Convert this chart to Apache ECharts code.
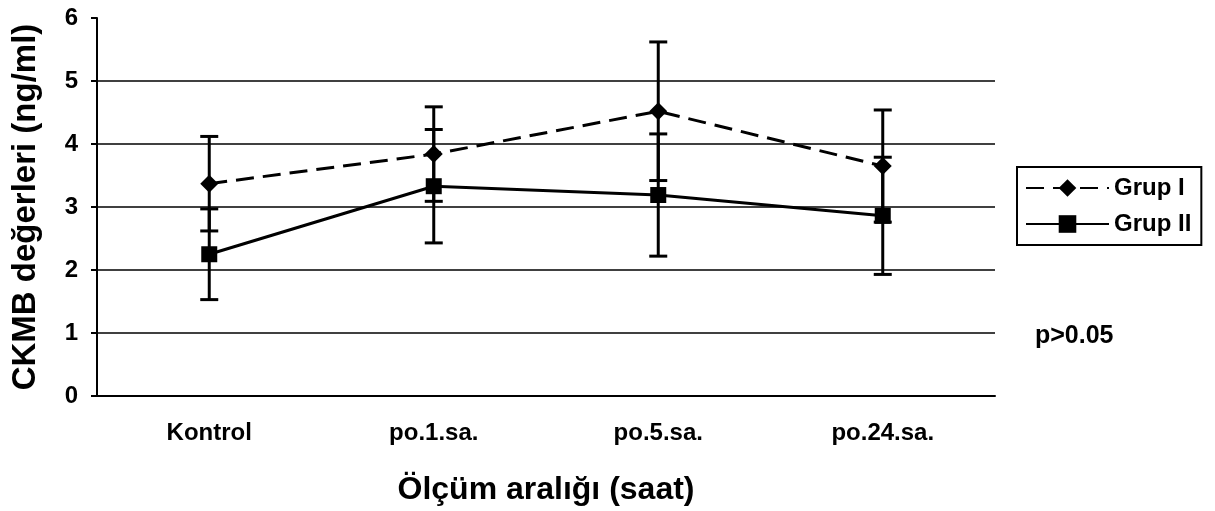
<!DOCTYPE html>
<html>
<head>
<meta charset="utf-8">
<script src="https://cdn.jsdelivr.net/npm/echarts@6/dist/echarts.min.js"></script>
<style>
  html, body { margin: 0; padding: 0; background: #fff; }
  #main { width: 1215px; height: 511px; }
</style>
</head>
<body>
<div id="main"></div>
<script>
// values
var categories = ['Kontrol', 'po.1.sa.', 'po.5.sa.', 'po.24.sa.'];
var grup1Mean = [3.37, 3.84, 4.52, 3.65];
var grup1Err = [0.75, 0.75, 1.10, 0.89];
var grup2Mean = [2.25, 3.33, 3.19, 2.86];
var grup2Err = [0.72, 0.90, 0.97, 0.93];
var yTicks = [0, 1, 2, 3, 4, 5, 6];

var FONT = '"Liberation Sans", Arial, sans-serif';

function errData(mean, err) {
  return mean.map(function (m, i) { return [i, m - err[i], m + err[i]]; });
}

function renderErr(params, api) {
  var lo = api.coord([api.value(0), api.value(1)]);
  var hi = api.coord([api.value(0), api.value(2)]);
  var half = 9;
  var st = { stroke: '#000', lineWidth: 3 };
  return {
    type: 'group',
    children: [
      { type: 'line', shape: { x1: lo[0], y1: lo[1], x2: hi[0], y2: hi[1] }, style: st },
      { type: 'line', shape: { x1: lo[0] - half, y1: lo[1], x2: lo[0] + half, y2: lo[1] }, style: st },
      { type: 'line', shape: { x1: hi[0] - half, y1: hi[1], x2: hi[0] + half, y2: hi[1] }, style: st }
    ]
  };
}

var chart = echarts.init(document.getElementById('main'));

chart.setOption({
  backgroundColor: '#fff',
  animation: false,
  textStyle: { fontFamily: FONT, color: '#000' },
  grid: { left: 97, right: 220, top: 18, bottom: 115 },
  legend: {
    orient: 'vertical',
    left: 1017,
    top: 167,
    padding: [9, 10, 9, 8],
    itemGap: 12,
    itemWidth: 83,
    itemHeight: 22,
    borderColor: '#000',
    borderWidth: 2,
    data: ['Grup I', 'Grup II'],
    textStyle: { fontFamily: FONT, fontSize: 24, fontWeight: 'bold', color: '#000' }
  },
  xAxis: {
    type: 'category',
    data: categories,
    boundaryGap: true,
    name: 'Ölçüm aralığı (saat)',
    nameLocation: 'middle',
    nameGap: 78,
    nameTextStyle: { fontFamily: FONT, fontSize: 32, fontWeight: 'bold', color: '#000' },
    axisLine: { lineStyle: { color: '#000', width: 2 } },
    axisTick: { length: 8, lineStyle: { color: '#000', width: 2 } },
    axisLabel: { margin: 25, fontFamily: FONT, fontSize: 24, fontWeight: 'bold', color: '#000' }
  },
  yAxis: {
    type: 'value',
    min: yTicks[0],
    max: yTicks[yTicks.length - 1],
    interval: 1,
    name: 'CKMB değerleri (ng/ml)',
    nameLocation: 'middle',
    nameGap: 55,
    nameTextStyle: { fontFamily: FONT, fontSize: 33, fontWeight: 'bold', color: '#000' },
    axisLine: { show: true, lineStyle: { color: '#000', width: 2 } },
    axisTick: { show: true, length: 6, lineStyle: { color: '#000', width: 2 } },
    axisLabel: { margin: 19, fontFamily: FONT, fontSize: 24, fontWeight: 'bold', color: '#000' },
    splitLine: { show: true, showMaxLine: false, lineStyle: { color: '#000', width: 1.5 } }
  },
  graphic: [
    {
      type: 'text',
      left: 1035,
      top: 324,
      style: { text: 'p>0.05', fontFamily: FONT, fontSize: 25, fontWeight: 'bold', fill: '#000' }
    }
  ],
  series: [
    {
      name: 'Grup I',
      type: 'line',
      data: grup1Mean,
      symbol: 'diamond',
      symbolSize: 18,
      itemStyle: { color: '#000' },
      lineStyle: { color: '#000', width: 3, type: [18, 9] },
      z: 3
    },
    {
      name: 'Grup II',
      type: 'line',
      data: grup2Mean,
      symbol: 'rect',
      symbolSize: 16,
      itemStyle: { color: '#000' },
      lineStyle: { color: '#000', width: 3 },
      z: 3
    },
    {
      type: 'custom',
      renderItem: renderErr,
      data: errData(grup1Mean, grup1Err),
      encode: { x: 0, y: [1, 2] },
      z: 2
    },
    {
      type: 'custom',
      renderItem: renderErr,
      data: errData(grup2Mean, grup2Err),
      encode: { x: 0, y: [1, 2] },
      z: 2
    }
  ]
});
</script>
</body>
</html>
